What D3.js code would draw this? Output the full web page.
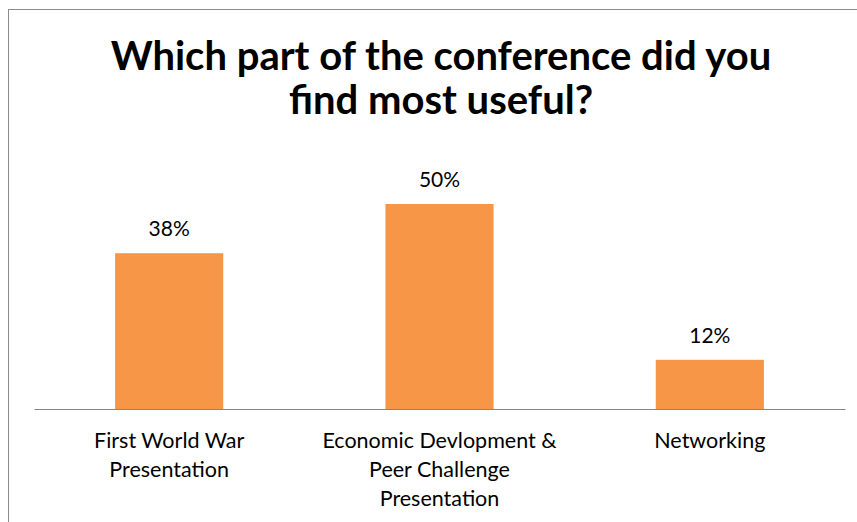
<!DOCTYPE html>
<html>
<head>
<meta charset="utf-8">
<script src="https://cdn.jsdelivr.net/npm/d3@7"></script>
<style>
  body { margin: 0; background: #fff; }
  text { font-family: Lato, "Open Sans", sans-serif; }
</style>
</head>
<body>
<div id="chart"></div>
<script>
const titleLines = ["Which part of the conference did you", "find most useful?"];
const categories = [
  ["First World War", "Presentation"],
  ["Economic Devlopment &", "Peer Challenge", "Presentation"],
  ["Networking"]
];
const values = [38, 50, 12];
const yMax = 60;

const W = 857, H = 522;
const margin = { top: 163, right: 12, bottom: 113, left: 34 };
const width = W - margin.left - margin.right,
      height = H - margin.top - margin.bottom;

const svg = d3.select("#chart")
  .append("svg")
  .attr("width", W)
  .attr("height", H);

// chart area border (runs off the right and bottom edges)
svg.append("rect")
  .attr("x", 8.5)
  .attr("y", 9.5)
  .attr("width", W)
  .attr("height", H)
  .attr("fill", "none")
  .attr("stroke", "#8c8c8c")
  .attr("stroke-width", 1);

// Title
svg.append("text")
  .attr("x", 441)
  .attr("text-anchor", "middle")
  .attr("font-weight", "bold")
  .style("font-size", "40px")
  .attr("fill", "#000")
  .selectAll("tspan")
  .data(titleLines)
  .enter()
  .append("tspan")
  .attr("x", 441)
  .attr("y", (d, i) => 70 + i * 44)
  .text(d => d);

const g = svg.append("g")
  .attr("transform", `translate(${margin.left},${margin.top})`);

const xScale = d3.scaleBand()
  .domain(d3.range(values.length))
  .range([0, width])
  .paddingInner(0.6)
  .paddingOuter(0.3);

const yScale = d3.scaleLinear()
  .domain([0, yMax])
  .range([height, 0]);

g.selectAll(".bar")
  .data(values)
  .enter()
  .append("rect")
  .attr("class", "bar")
  .attr("x", (d, i) => xScale(i))
  .attr("y", d => yScale(d))
  .attr("width", xScale.bandwidth())
  .attr("height", d => height - yScale(d))
  .attr("fill", "#f79646");

g.selectAll(".value-label")
  .data(values)
  .enter()
  .append("text")
  .attr("class", "value-label")
  .attr("x", (d, i) => xScale(i) + xScale.bandwidth() / 2)
  .attr("y", d => yScale(d) - 17)
  .attr("text-anchor", "middle")
  .attr("fill", "#000")
  .style("font-size", "21px")
  .text(d => d + "%");

// x axis line
const xAxis = d3.axisBottom(xScale).tickSize(0).tickFormat("");
const axisG = g.append("g")
  .attr("transform", `translate(0,${height})`)
  .call(xAxis);
axisG.select(".domain").attr("stroke", "#868686");

// category labels
g.selectAll(".cat-label")
  .data(categories)
  .enter()
  .append("text")
  .attr("class", "cat-label")
  .attr("text-anchor", "middle")
  .attr("fill", "#000")
  .style("font-size", "21.5px")
  .each(function(lines, i) {
    const cx = xScale(i) + xScale.bandwidth() / 2;
    d3.select(this).selectAll("tspan")
      .data(lines)
      .enter()
      .append("tspan")
      .attr("x", cx)
      .attr("y", (l, j) => height + 39 + j * 29)
      .text(l => l);
  });
</script>
</body>
</html>
